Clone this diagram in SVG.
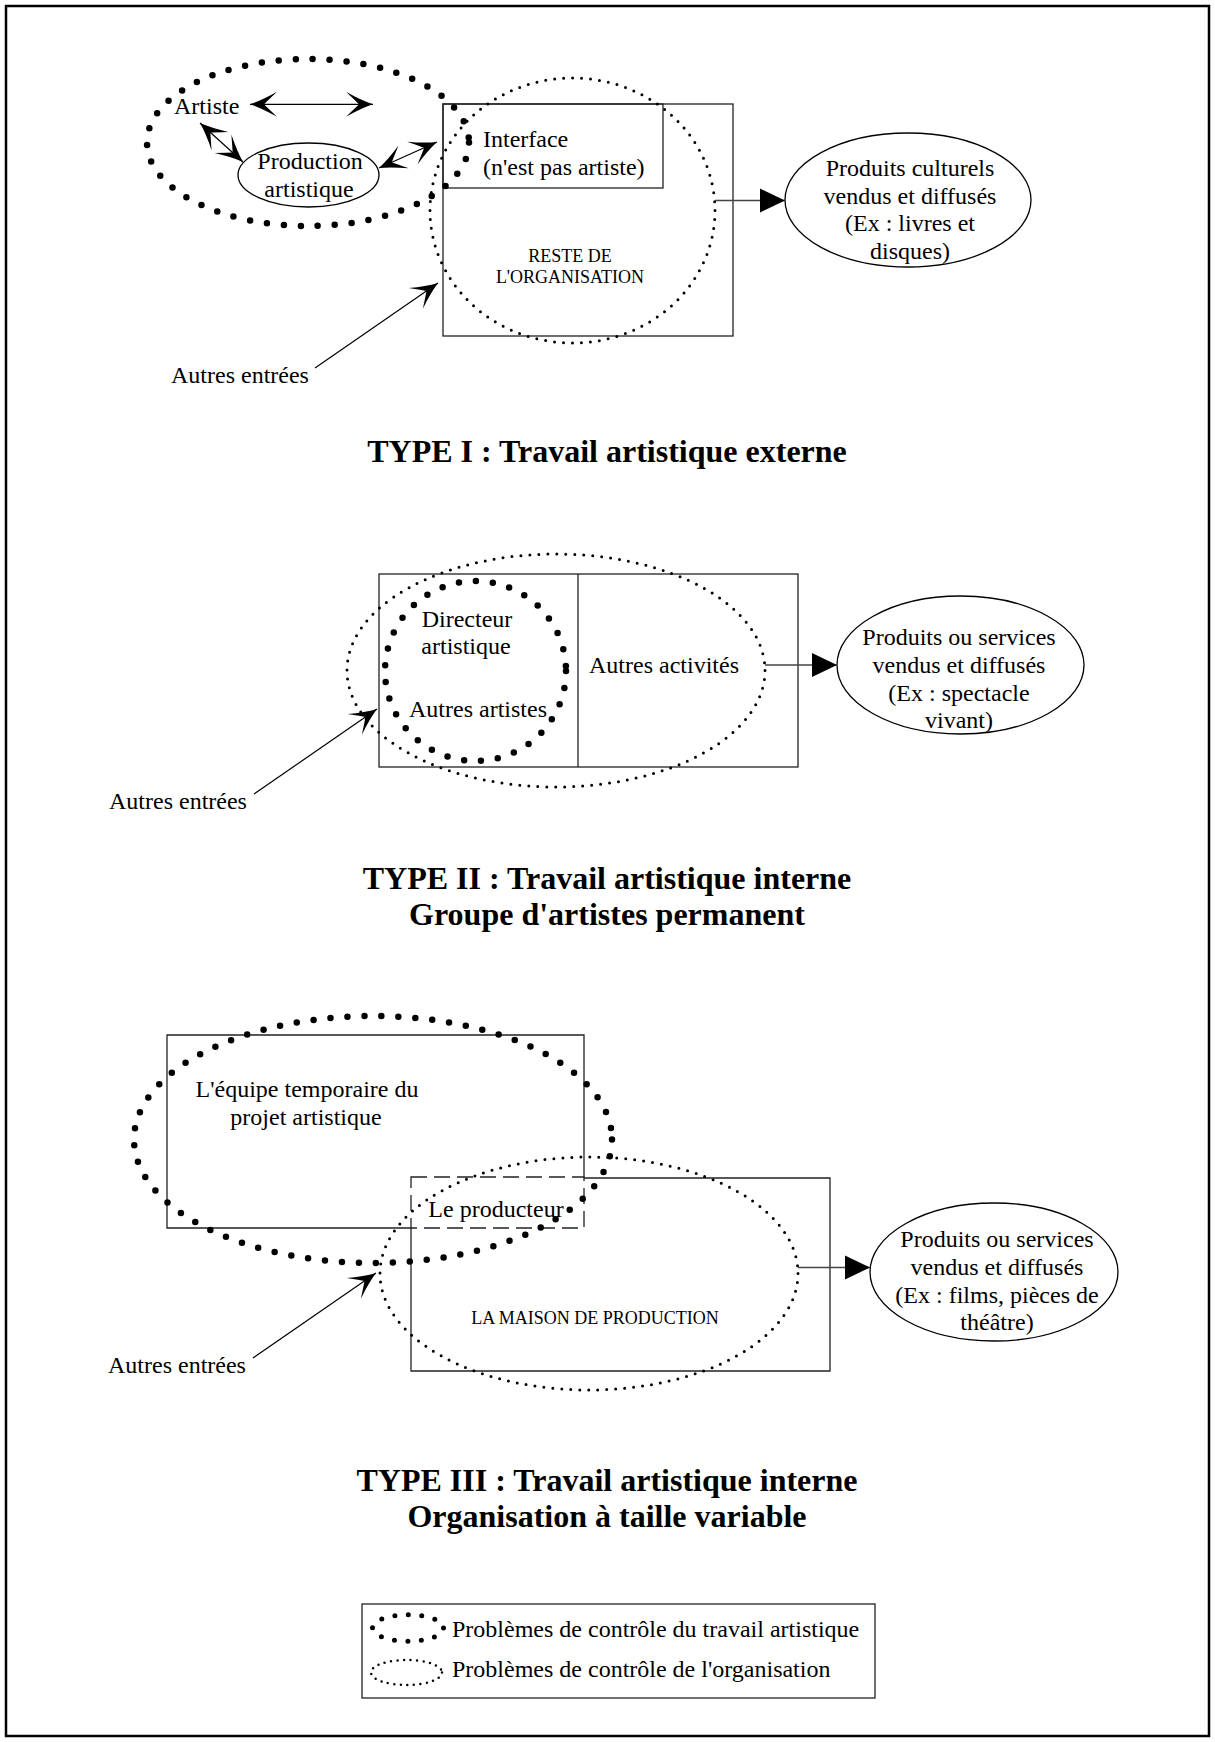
<svg xmlns="http://www.w3.org/2000/svg" width="1215" height="1742" viewBox="0 0 1215 1742">
<style>
  .t { font-family: "Liberation Serif", "Times New Roman", serif; font-size: 24px; fill: #000; }
  .s { font-family: "Liberation Serif", "Times New Roman", serif; font-size: 18px; fill: #000; }
  .h { font-family: "Liberation Serif", "Times New Roman", serif; font-size: 32px; font-weight: bold; fill: #000; text-anchor: middle; }
  .c { text-anchor: middle; }
  .box { fill: none; stroke: #222; stroke-width: 1.3; }
  .dash { fill: none; stroke: #222; stroke-width: 1.3; stroke-dasharray: 16 7; }
  .heavy { fill: none; stroke: #000; stroke-width: 6.5; stroke-linecap: round; stroke-dasharray: 0 17; }
  .light { fill: none; stroke: #000; stroke-width: 3; stroke-linecap: round; stroke-dasharray: 0 9; }
  .node { fill: #fff; stroke: #000; stroke-width: 1.3; }
  .conn { fill: none; stroke: #000; stroke-width: 1.2; }
  .out { fill: none; stroke: #444; stroke-width: 1.5; }
</style>
<defs>
  <marker id="barb" markerUnits="userSpaceOnUse" viewBox="-30 -15 32 30" markerWidth="32" markerHeight="30" refX="0" refY="0" orient="auto-start-reverse">
    <path d="M0,0 Q-12,-4 -27,-12.5 Q-17,-3 -14,0 Q-17,3 -27,12.5 Q-12,4 0,0 Z" fill="#000"/>
  </marker>
  <marker id="tri" markerUnits="userSpaceOnUse" viewBox="-27 -13 28 26" markerWidth="28" markerHeight="26" refX="0" refY="0" orient="auto">
    <path d="M0,0 L-25,-12 L-25,12 Z" fill="#000"/>
  </marker>
</defs>

<rect x="6" y="6" width="1203" height="1730" fill="none" stroke="#000" stroke-width="2.5"/>

<!-- TYPE I -->
<g id="t1-organisation">
  <rect class="box" x="443" y="104" width="290" height="232"/>
  <text class="s c" x="570" y="262">RESTE DE</text>
  <text class="s c" x="570" y="283">L'ORGANISATION</text>
</g>
<g id="t1-interface">
  <rect class="box" x="443" y="104" width="220" height="84"/>
  <text class="t" x="483" y="147">Interface</text>
  <text class="t" x="483" y="175">(n'est pas artiste)</text>
</g>
<g id="t1-artiste">
  <text class="t" x="174" y="114">Artiste</text>
</g>
<g id="t1-production">
  <ellipse class="node" cx="308.5" cy="175" rx="70.5" ry="32"/>
  <text class="t c" x="310" y="169">Production</text>
  <text class="t c" x="309" y="197">artistique</text>
</g>
<g id="t1-produits">
  <ellipse class="node" cx="908" cy="200" rx="123" ry="67"/>
  <text class="t c" x="910" y="176">Produits culturels</text>
  <text class="t c" x="910" y="203.5">vendus et diffusés</text>
  <text class="t c" x="910" y="231">(Ex : livres et</text>
  <text class="t c" x="910" y="258.5">disques)</text>
</g>
<g id="t1-autres-entrees">
  <text class="t" x="171" y="383">Autres entrées</text>
</g>
<g id="t1-zones">
  <ellipse class="heavy" cx="308" cy="142.5" rx="161" ry="83.5"/>
  <ellipse class="light" cx="572.5" cy="210.5" rx="142.5" ry="132.5"/>
</g>
<g id="t1-title">
  <text class="h" x="607" y="462">TYPE I : Travail artistique externe</text>
</g>

<!-- TYPE II -->
<g id="t2-organisation">
  <rect class="box" x="379" y="574" width="419" height="193"/>
  <line class="box" x1="578" y1="574" x2="578" y2="767"/>
  <text class="t c" x="664" y="673">Autres activités</text>
</g>
<g id="t2-artistes">
  <text class="t c" x="467" y="627">Directeur</text>
  <text class="t c" x="466" y="654">artistique</text>
  <text class="t c" x="478" y="717">Autres artistes</text>
</g>
<g id="t2-produits">
  <ellipse class="node" cx="960.5" cy="665" rx="123.5" ry="69"/>
  <text class="t c" x="959" y="645">Produits ou services</text>
  <text class="t c" x="959" y="673">vendus et diffusés</text>
  <text class="t c" x="959" y="701">(Ex : spectacle</text>
  <text class="t c" x="959" y="728">vivant)</text>
</g>
<g id="t2-autres-entrees">
  <text class="t" x="109" y="809">Autres entrées</text>
</g>
<g id="t2-zones">
  <ellipse class="heavy" cx="475.5" cy="671" rx="90.5" ry="90"/>
  <ellipse class="light" cx="556" cy="670.5" rx="209" ry="116.5"/>
</g>
<g id="t2-title">
  <text class="h" x="607" y="889">TYPE II : Travail artistique interne</text>
  <text class="h" x="607" y="925">Groupe d'artistes permanent</text>
</g>

<!-- TYPE III -->
<g id="t3-equipe">
  <path class="box" d="M411,1228 H167 V1035 H584 V1177"/>
  <text class="t c" x="307" y="1097">L'équipe temporaire du</text>
  <text class="t c" x="306" y="1125">projet artistique</text>
</g>
<g id="t3-maison">
  <path class="box" d="M584,1178 H830 V1371 H411 V1228"/>
  <text class="s c" x="595" y="1324">LA MAISON DE PRODUCTION</text>
</g>
<g id="t3-producteur">
  <rect class="dash" x="411" y="1177" width="173" height="51"/>
  <text class="t c" x="496" y="1217">Le producteur</text>
</g>
<g id="t3-produits">
  <ellipse class="node" cx="994" cy="1272" rx="124" ry="69"/>
  <text class="t c" x="997" y="1247">Produits ou services</text>
  <text class="t c" x="997" y="1275">vendus et diffusés</text>
  <text class="t c" x="997" y="1303">(Ex : films, pièces de</text>
  <text class="t c" x="997" y="1330">théâtre)</text>
</g>
<g id="t3-autres-entrees">
  <text class="t" x="108" y="1373">Autres entrées</text>
</g>
<g id="t3-zones">
  <ellipse class="heavy" cx="373" cy="1139.5" rx="239" ry="123.5"/>
  <ellipse class="light" cx="589" cy="1273.5" rx="209" ry="116.5"/>
</g>
<g id="t3-title">
  <text class="h" x="607" y="1491">TYPE III : Travail artistique interne</text>
  <text class="h" x="607" y="1527">Organisation à taille variable</text>
</g>

<!-- LEGEND -->
<g id="legend">
  <rect x="362" y="1604" width="513" height="94" fill="none" stroke="#222" stroke-width="1.3"/>
  <ellipse cx="408" cy="1628" rx="35.5" ry="13.3" fill="none" stroke="#000" stroke-width="5" stroke-linecap="round" stroke-dasharray="0 13.45"/>
  <text class="t" x="452" y="1637">Problèmes de contrôle du travail artistique</text>
  <ellipse cx="406.5" cy="1672.5" rx="35.5" ry="12.5" fill="none" stroke="#000" stroke-width="2.5" stroke-linecap="round" stroke-dasharray="0 6.5"/>
  <text class="t" x="452" y="1677">Problèmes de contrôle de l'organisation</text>
</g>

<!-- CONNECTORS -->
<g id="connectors">
  <line class="conn" x1="250" y1="104.3" x2="373" y2="104.3" marker-start="url(#barb)" marker-end="url(#barb)"/>
  <line class="conn" x1="200" y1="123" x2="243" y2="162" marker-start="url(#barb)" marker-end="url(#barb)"/>
  <line class="conn" x1="379" y1="168" x2="437" y2="142" marker-start="url(#barb)" marker-end="url(#barb)"/>
  <line class="out" x1="715" y1="200.5" x2="785" y2="200.5" marker-end="url(#tri)"/>
  <line class="conn" x1="315" y1="368" x2="438" y2="283" marker-end="url(#barb)"/>
  <line class="out" x1="765" y1="665" x2="837" y2="665" marker-end="url(#tri)"/>
  <line class="conn" x1="254" y1="794" x2="377" y2="709" marker-end="url(#barb)"/>
  <line class="out" x1="798" y1="1267.5" x2="870" y2="1267.5" marker-end="url(#tri)"/>
  <line class="conn" x1="253" y1="1358" x2="376" y2="1273" marker-end="url(#barb)"/>
</g>
</svg>
